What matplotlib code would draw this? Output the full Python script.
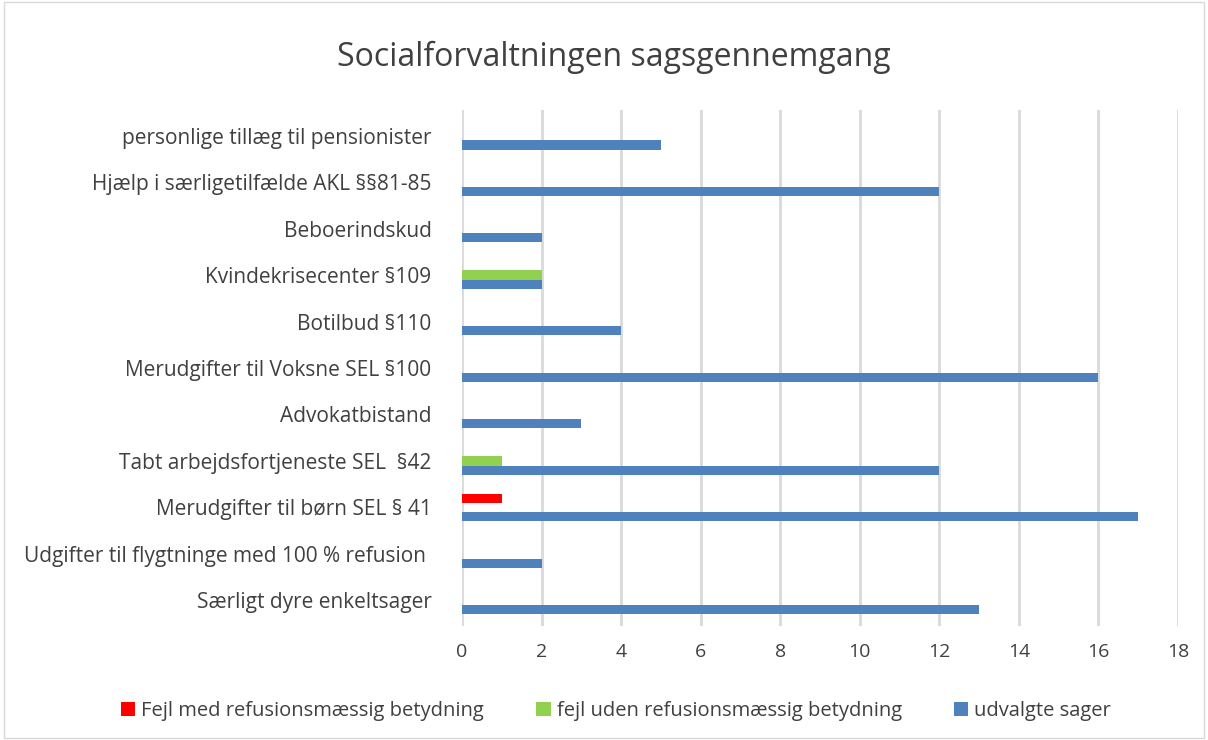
import numpy as np
import matplotlib.pyplot as plt
from matplotlib.patches import Rectangle

plt.rcParams['font.family'] = ['Open Sans', 'DejaVu Sans']

# kategorier nedefra og op
kategorier = [
    'Særligt dyre enkeltsager',
    'Udgifter til flygtninge med 100 % refusion ',
    'Merudgifter til børn SEL § 41',
    'Tabt arbejdsfortjeneste SEL  §42',
    'Advokatbistand',
    'Merudgifter til Voksne SEL §100',
    'Botilbud §110',
    'Kvindekrisecenter §109',
    'Beboerindskud',
    'Hjælp i særligetilfælde AKL §§81-85',
    'personlige tillæg til pensionister',
]
fejl_med = [0, 0, 1, 0, 0, 0, 0, 0, 0, 0, 0]
fejl_uden = [0, 0, 0, 1, 0, 0, 0, 2, 0, 0, 0]
udvalgte = [13, 2, 17, 12, 3, 16, 4, 2, 2, 12, 5]

serier = [
    ('Fejl med refusionsmæssig betydning', fejl_med, '#FF0000', 0.2),
    ('fejl uden refusionsmæssig betydning', fejl_uden, '#92D050', 0.0),
    ('udvalgte sager', udvalgte, '#4F81BD', -0.2),
]

fig = plt.figure(figsize=(12.08, 7.4), dpi=100)
ax = fig.add_axes([462 / 1208, 1 - 626 / 740, 716 / 1208, 516 / 740])

y = np.arange(len(kategorier))
for navn, vals, farve, off in serier:
    ax.barh(y + off, vals, height=0.2, color=farve, label=navn, zorder=3)

ax.set_xlim(0, 18)
ax.set_ylim(-0.55, len(kategorier) - 0.45)
ax.set_xticks(range(0, 19, 2))
ax.set_yticks(y)
ax.set_yticklabels(kategorier, fontsize=15)
ax.tick_params(axis='both', length=0, colors='#404040')
ax.tick_params(axis='x', labelsize=14, pad=12)
ax.tick_params(axis='y', pad=22)
ax.grid(axis='x', color='#D9D9D9', linewidth=2, zorder=0)
for s in ax.spines.values():
    s.set_visible(False)

fig.text(0.508, 1 - 57 / 740, 'Socialforvaltningen sagsgennemgang',
         ha='center', va='center', fontsize=23, color='#404040')

handles, labels = ax.get_legend_handles_labels()
fig.legend(handles, labels, loc='center', bbox_to_anchor=(0.51, 1 - 711 / 740),
           ncol=3, frameon=False, fontsize=14.5, handlelength=0.7, handleheight=0.7,
           columnspacing=2.6, handletextpad=0.3, labelcolor='#404040')

fig.patches.append(Rectangle((0.003, 0.003), 0.994, 0.994, transform=fig.transFigure,
                             fill=False, edgecolor='#D9D9D9', linewidth=1))

fig.savefig('out.png', dpi=100)
